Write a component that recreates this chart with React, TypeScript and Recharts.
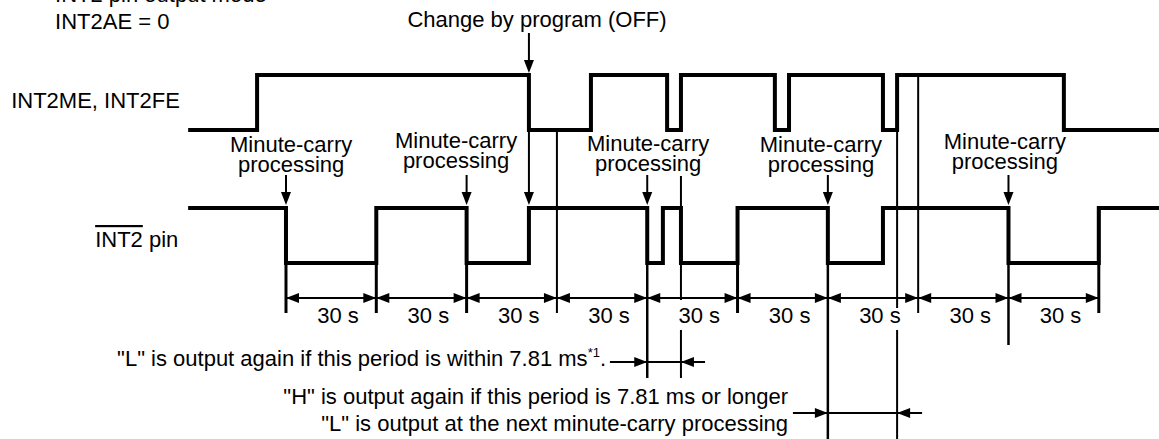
import { LineChart, Line, XAxis, YAxis, ReferenceLine, ReferenceDot } from 'recharts'

// time axis in seconds; glitches are drawn schematically (ms events)
const meTimes = [-32.5, -9.6, 80.7, 101.3, 126.6, 131.2, 162.4, 167.1, 198.3, 203, 258.4, 290]
const meLevels = [0, 1, 0, 1, 0, 1, 0, 1, 0, 1, 0, 0]
const pinTimes = [-32.5, 0, 30, 60, 80.7, 120, 125.2, 131.2, 150, 180, 198.3, 240, 270, 290]
const pinLevels = [1, 0, 1, 0, 1, 0, 1, 0, 1, 0, 1, 0, 1, 1]
const periodBounds = [0, 30, 60, 90, 120, 150, 180, 210, 240, 270]
const periodLabel = '30 s'
const carryTimes = [0, 60, 120, 180, 240]
const carryLabel = ['Minute-carry', 'processing']
const programTime = 80.7
const shortLPeriod = [120, 131.2]
const longHPeriod = [180, 203]

const FONT = '"Liberation Sans", Arial, sans-serif'
const W = 1159
const H = 439

// lanes (y in px-like units of the hidden y axis)
const ME = { hi: 75, lo: 130 }
const PIN = { hi: 208, lo: 263 }
const DIM_Y = 298

const meData = meTimes.map((t, i) => ({ t, y: meLevels[i] ? ME.hi : ME.lo }))
const pinData = pinTimes.map((t, i) => ({ t, y: pinLevels[i] ? PIN.hi : PIN.lo }))

type Dir = 'down' | 'left' | 'right'

const head = (dir: Dir) => (p: any) => {
  const { cx, cy } = p
  let pts = ''
  if (dir === 'down') pts = `${cx},${cy} ${cx - 5},${cy - 13} ${cx + 5},${cy - 13}`
  if (dir === 'right') pts = `${cx},${cy} ${cx - 13},${cy - 5} ${cx - 13},${cy + 5}`
  if (dir === 'left') pts = `${cx},${cy} ${cx + 13},${cy - 5} ${cx + 13},${cy + 5}`
  return <polygon points={pts} fill="#000" />
}

const txt = (content: any, anchor: 'start' | 'middle' | 'end' = 'start') => (p: any) => (
  <text x={p.cx} y={p.cy} textAnchor={anchor} fontFamily={FONT} fontSize={22} fill="#000">
    {content}
  </text>
)

const seg = (t1: number, y1: number, t2: number, y2: number, w: number, key: string) => (
  <ReferenceLine
    key={key}
    segment={[{ x: t1, y: y1 }, { x: t2, y: y2 }]}
    stroke="#000"
    strokeWidth={w}
    ifOverflow="visible"
  />
)

const dot = (t: number, y: number, shape: any, key: string) => (
  <ReferenceDot key={key} x={t} y={y} r={0} shape={shape} ifOverflow="visible" />
)

export default function App() {
  // vertical guide lines: [time, top, bottom, width]
  const guides: [number, number, number, number][] = [
    [0, PIN.lo, 313, 3],
    [30, PIN.lo, 313, 3],
    [60, PIN.lo, 313, 3],
    [90, ME.lo, 313, 2],
    [120, PIN.lo, 378, 2.5],
    [131.2, 176, 300, 2],
    [131.2, 330, 378, 2],
    [150, PIN.lo, 313, 3],
    [180, PIN.lo, 439, 2.5],
    [203, ME.lo, 308, 2],
    [203, 330, 439, 2],
    [210, ME.hi, 313, 2],
    [240, PIN.lo, 345, 2.5],
    [270, PIN.hi, 313, 3],
  ]
  const carryLabelY = [152, 148, 151, 152, 149]
  const carryLabelT = [1.7, 56.5, 120.3, 177.7, 238.8]

  const marks: any[] = []
  guides.forEach(([t, a, b, w], i) => marks.push(seg(t, a, t, b, w, `g${i}`)))

  // 30 s dimension arrows
  periodBounds.slice(0, -1).forEach((a, i) => {
    const b = periodBounds[i + 1]
    marks.push(seg(a, DIM_Y, b, DIM_Y, 2, `d${i}`))
    marks.push(dot(a, DIM_Y, head('left'), `dl${i}`))
    marks.push(dot(b, DIM_Y, head('right'), `dr${i}`))
    marks.push(dot((a + b) / 2 + 2.3, 323, txt(periodLabel, 'middle'), `dt${i}`))
  })

  // minute-carry arrows and labels
  carryTimes.forEach((t, i) => {
    marks.push(seg(t, 175, t, 200, 2, `c${i}`))
    marks.push(dot(t, 205, head('down'), `ch${i}`))
    marks.push(dot(carryLabelT[i], carryLabelY[i], txt(carryLabel[0], 'middle'), `cl${i}`))
    marks.push(dot(carryLabelT[i], carryLabelY[i] + 20, txt(carryLabel[1], 'middle'), `cm${i}`))
  })

  // change by program
  marks.push(seg(programTime, 33, programTime, 66, 2, 'p1'))
  marks.push(dot(programTime, 73, head('down'), 'ph1'))
  marks.push(seg(programTime, ME.lo, programTime, 200, 2, 'p2'))
  marks.push(dot(programTime, 205, head('down'), 'ph2'))
  marks.push(dot(83.4, 27, txt('Change by program (OFF)', 'middle'), 'pt'))

  // short "L" period
  marks.push(seg(107.6, 362, 139.2, 362, 2, 's1'))
  marks.push(dot(shortLPeriod[0], 362, head('right'), 's2'))
  marks.push(dot(shortLPeriod[1], 362, head('left'), 's3'))
  // long "H" period
  marks.push(seg(168.4, 413, 211.3, 413, 2, 'h1'))
  marks.push(dot(longHPeriod[0], 413, head('right'), 'h2'))
  marks.push(dot(longHPeriod[1], 413, head('left'), 'h3'))

  // texts
  marks.push(dot(-76.7, 2, txt('INT2 pin output mode'), 't0'))
  marks.push(dot(-76.7, 29, txt('INT2AE = 0'), 't1'))
  marks.push(dot(-91.3, 108, txt('INT2ME, INT2FE'), 't2'))
  marks.push(
    dot(
      -63.4,
      247,
      txt(
        <>
          <tspan style={{ textDecoration: 'overline' }}>INT2</tspan> pin
        </>
      ),
      't3'
    )
  )
  marks.push(
    dot(
      -56.1,
      366,
      txt(
        <>
          "L" is output again if this period is within 7.81 ms
          <tspan fontSize={13} dy={-9}>*1</tspan>
          <tspan dy={9}>.</tspan>
        </>
      ),
      't4'
    )
  )
  marks.push(dot(166.8, 404, txt('"H" is output again if this period is 7.81 ms or longer', 'end'), 't5'))
  marks.push(dot(166.8, 431, txt('"L" is output at the next minute-carry processing', 'end'), 't6'))

  return (
    <div style={{ width: W, height: H, background: '#fff' }}>
      <style>{'body{margin:0}'}</style>
      <LineChart width={W} height={H} margin={{ top: 0, right: 0, bottom: 0, left: 0 }}>
        <XAxis type="number" dataKey="t" domain={[-95, 290]} hide allowDataOverflow />
        <YAxis type="number" domain={[0, H]} reversed hide allowDataOverflow />
        {marks}
        <Line
          data={meData}
          dataKey="y"
          type="stepAfter"
          stroke="#000"
          strokeWidth={4}
          dot={false}
          activeDot={false}
          isAnimationActive={false}
        />
        <Line
          data={pinData}
          dataKey="y"
          type="stepAfter"
          stroke="#000"
          strokeWidth={4}
          dot={false}
          activeDot={false}
          isAnimationActive={false}
        />
      </LineChart>
    </div>
  )
}
